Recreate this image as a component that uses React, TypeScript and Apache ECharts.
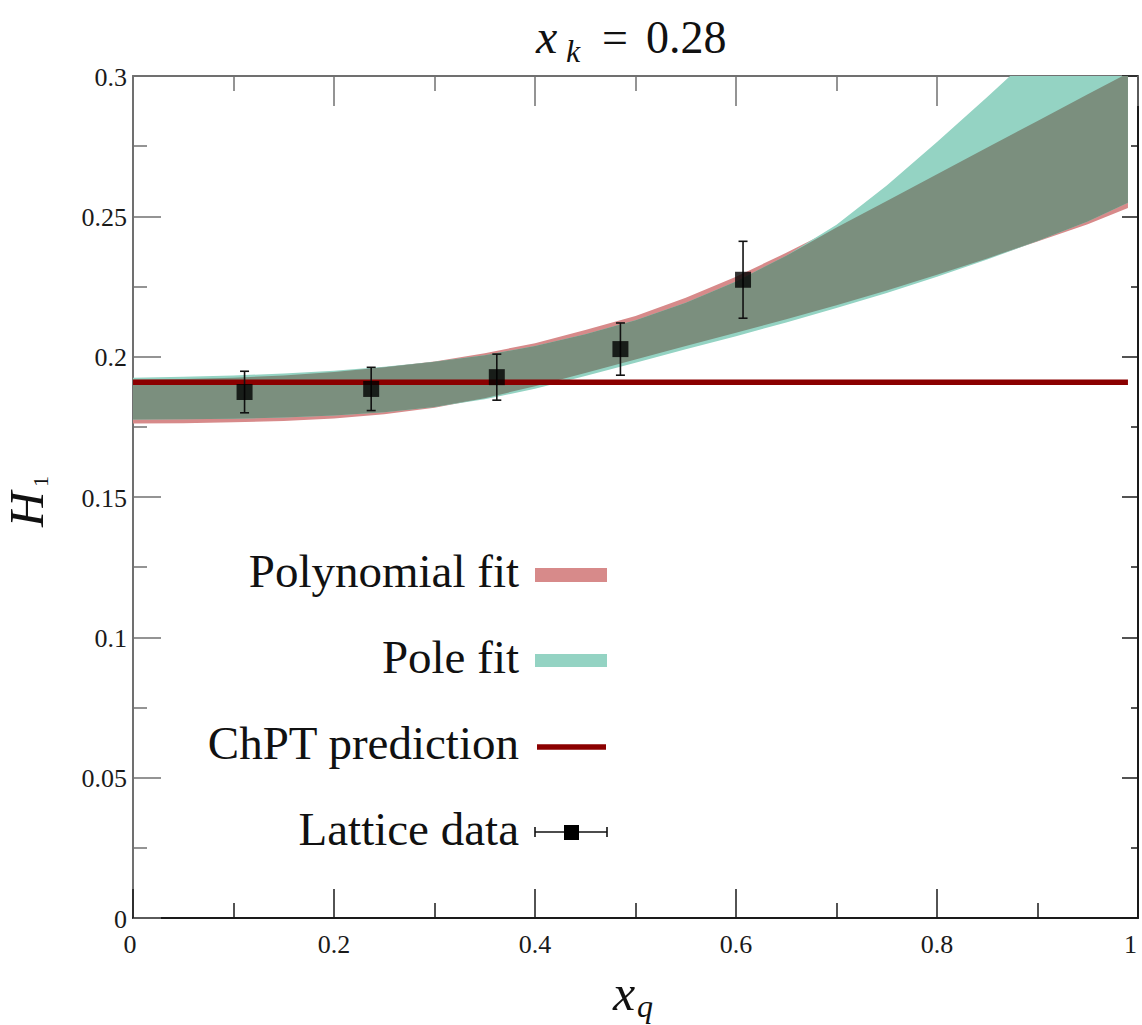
import React, { useEffect, useRef } from "react";
import * as echarts from "echarts";

// ---------- data ----------
const bandX = [0, 0.05, 0.1, 0.15, 0.2, 0.25, 0.3, 0.35, 0.4, 0.45, 0.5, 0.55, 0.6, 0.65, 0.7, 0.75, 0.8, 0.85, 0.9, 0.95, 0.99];
const polyLo = [0.1762, 0.1763, 0.1766, 0.1771, 0.178, 0.1795, 0.1818, 0.1852, 0.1895, 0.1942, 0.199, 0.2038, 0.2085, 0.2133, 0.2183, 0.2236, 0.2292, 0.235, 0.241, 0.2472, 0.253];
const polyHi = [0.1918, 0.192, 0.1925, 0.1933, 0.1945, 0.1962, 0.1983, 0.2012, 0.2048, 0.2095, 0.2145, 0.221, 0.2285, 0.237, 0.246, 0.2555, 0.265, 0.2745, 0.284, 0.2935, 0.301];
const poleLo = [0.1776, 0.1777, 0.1779, 0.1783, 0.179, 0.1802, 0.1821, 0.1848, 0.1886, 0.1931, 0.1978, 0.2026, 0.2073, 0.2122, 0.2173, 0.2227, 0.2285, 0.2346, 0.2412, 0.2482, 0.2548];
const poleHi = [0.1925, 0.1928, 0.1933, 0.194, 0.195, 0.1964, 0.1982, 0.2005, 0.2038, 0.208, 0.213, 0.2192, 0.2268, 0.236, 0.247, 0.261, 0.2765, 0.2925, 0.309, 0.326, 0.34];

const latticeX = [0.111, 0.237, 0.362, 0.485, 0.607];
const latticeY = [0.1874, 0.1885, 0.1927, 0.2027, 0.2274];
const latticeErr = [0.0074, 0.0077, 0.0082, 0.0093, 0.0137];

const chptValue = 0.1909;
const chptX = [0, 0.99];

const xTickValues = [0, 0.2, 0.4, 0.6, 0.8, 1];
const xTickLabels = ["0", "0.2", "0.4", "0.6", "0.8", "1"];
const yTickValues = [0, 0.05, 0.1, 0.15, 0.2, 0.25, 0.3];
const yTickLabels = ["0", "0.05", "0.1", "0.15", "0.2", "0.25", "0.3"];

// ---------- styles ----------
const FONT = "Liberation Serif";
const PINK = "#d78a8a";
const TEAL = "#94d3c3";
const OVERLAP = "#7b8f7e";
const DARKRED = "#8b0000";
const DARK = "#1a1a1a";
const GRAYAX = "#707070";
const TICKFONT = 26;

function bandSeries(lo: number[], hi: number[], color: string, z: number) {
  return {
    type: "custom",
    z,
    clip: true,
    silent: true,
    data: bandX.map((x, i) => [x, lo[i], hi[i]]),
    encode: { x: 0, y: [1, 2] },
    renderItem: (params: any, api: any) => {
      if (params.dataIndex !== 0) return null;
      const pts: number[][] = [];
      for (let i = 0; i < bandX.length; i++) pts.push(api.coord([bandX[i], hi[i]]));
      for (let i = bandX.length - 1; i >= 0; i--) pts.push(api.coord([bandX[i], lo[i]]));
      return { type: "polygon", shape: { points: pts }, style: { fill: color, stroke: null } };
    },
  };
}

function txt(text: string, x: number, y: number, size: number, align: string, italic = false, fill = "#111") {
  return {
    type: "text",
    x,
    y,
    silent: true,
    style: {
      text,
      fontSize: size,
      fontFamily: FONT,
      fontStyle: italic ? "italic" : "normal",
      fill,
      align,
      textAlign: align,
      verticalAlign: "middle",
      textVerticalAlign: "middle",
    },
  };
}

export default function App() {
  const ref = useRef<HTMLDivElement>(null);
  useEffect(() => {
    if (!ref.current) return;
    const chart = echarts.init(ref.current, null, { renderer: "svg" });
    const overlapLo = polyLo.map((v, i) => Math.max(v, poleLo[i]));
    const overlapHi = polyHi.map((v, i) => Math.min(v, poleHi[i]));

    const legendBase = [587, 673, 759, 845];
    const LF = 47;
    const mid = (b: number, f: number) => b - 0.3375 * f;

    const axisCommon = (color: string, major: number, minor: number, interval: number) => ({
      type: "value",
      interval,
      axisLine: { show: true, onZero: false, lineStyle: { color, width: 2 } },
      axisTick: { show: true, inside: true, length: major, lineStyle: { color, width: 1.5 } },
      minorTick: { show: true, splitNumber: 2, length: minor, lineStyle: { color, width: 1.5 } },
      splitLine: { show: false },
      axisLabel: { show: false },
    });

    const option: any = {
      animation: false,
      backgroundColor: "#ffffff",
      textStyle: { fontFamily: FONT },
      grid: { left: 133, right: 4, top: 76, bottom: 107, containLabel: false, outerBoundsMode: "none" },
      xAxis: [
        { ...axisCommon(DARK, 29, 15, 0.2), min: 0, max: 1, position: "bottom" },
        { ...axisCommon(GRAYAX, 30, 15, 0.2), min: 0, max: 1, position: "top" },
      ],
      yAxis: [
        { ...axisCommon(GRAYAX, 28, 14, 0.05), min: 0, max: 0.3, position: "left" },
        { ...axisCommon(DARK, 16, 7, 0.05), min: 0, max: 0.3, position: "right" },
      ],
      series: [
        bandSeries(polyLo, polyHi, PINK, 1),
        bandSeries(poleLo, poleHi, TEAL, 2),
        bandSeries(overlapLo, overlapHi, OVERLAP, 3),
        {
          type: "line",
          z: 4,
          silent: true,
          showSymbol: false,
          data: chptX.map((x) => [x, chptValue]),
          lineStyle: { color: DARKRED, width: 5.5 },
        },
        {
          type: "custom",
          z: 5,
          silent: true,
          data: latticeX.map((x, i) => [x, latticeY[i], latticeErr[i]]),
          encode: { x: 0, y: 1 },
          renderItem: (params: any, api: any) => {
            const x = api.value(0);
            const y = api.value(1);
            const e = api.value(2);
            const top = api.coord([x, y + e]);
            const bot = api.coord([x, y - e]);
            const cap = 4.5;
            const st = { stroke: "#111", lineWidth: 1.6 };
            return {
              type: "group",
              children: [
                { type: "line", shape: { x1: top[0], y1: top[1], x2: bot[0], y2: bot[1] }, style: st },
                { type: "line", shape: { x1: top[0] - cap, y1: top[1], x2: top[0] + cap, y2: top[1] }, style: st },
                { type: "line", shape: { x1: bot[0] - cap, y1: bot[1], x2: bot[0] + cap, y2: bot[1] }, style: st },
              ],
            };
          },
        },
        {
          type: "scatter",
          z: 6,
          silent: true,
          symbol: "rect",
          symbolSize: 16,
          itemStyle: { color: "#000" },
          data: latticeX.map((x, i) => [x, latticeY[i]]),
        },
      ],
    };
    chart.setOption(option);

    // tick labels placed through the axes' own scales
    const y0 = chart.convertToPixel({ yAxisIndex: 0 }, 0) as number;
    const x0 = chart.convertToPixel({ xAxisIndex: 0 }, 0) as number;
    const tickLabels: any[] = [];
    xTickValues.forEach((v, i) => {
      const px = chart.convertToPixel({ xAxisIndex: 0 }, v) as number;
      const last = i === xTickValues.length - 1;
      const first = i === 0;
      tickLabels.push(
        txt(
          xTickLabels[i],
          first ? px - 3 : last ? px - 1 : px,
          y0 + 26,
          TICKFONT,
          last ? "right" : "center",
          false,
          DARK
        )
      );
    });
    yTickValues.forEach((v, i) => {
      const py = chart.convertToPixel({ yAxisIndex: 0 }, v) as number;
      tickLabels.push(txt(yTickLabels[i], x0 - 6, py + 1, TICKFONT, "right", false, DARK));
    });

    const graphics: any[] = [
      ...tickLabels,
      // title x_k = 0.28
      txt("x", 536, mid(53, 48), 48, "left", true),
      txt("k", 566, mid(62, 32), 32, "left", true),
      txt("=", 615, mid(53, 46), 46, "center"),
      txt("0.28", 646, mid(53, 46), 46, "left"),
      // x axis name x_q
      txt("x", 613, mid(1010, 50), 50, "left", true),
      txt("q", 637, mid(1017, 32), 32, "left", true),
      // y axis name H_1 (rotated)
      {
        type: "group",
        x: 43,
        y: 527,
        rotation: Math.PI / 2,
        children: [txt("H", 0, mid(0, 49), 49, "left", true), txt("1", 40, mid(5, 22), 22, "left")],
      },
      // legend
      txt("Polynomial fit", 519, mid(legendBase[0], LF), LF, "right"),
      txt("Pole fit", 519, mid(legendBase[1], LF), LF, "right"),
      txt("ChPT prediction", 519, mid(legendBase[2], LF), LF, "right"),
      txt("Lattice data", 519, mid(legendBase[3], LF), LF, "right"),
      { type: "rect", silent: true, shape: { x: 535, y: 568, width: 72, height: 14 }, style: { fill: PINK } },
      { type: "rect", silent: true, shape: { x: 535, y: 654, width: 72, height: 13 }, style: { fill: TEAL } },
      {
        type: "line",
        silent: true,
        shape: { x1: 537, y1: 747, x2: 606, y2: 747 },
        style: { stroke: DARKRED, lineWidth: 5.5 },
      },
      {
        type: "line",
        silent: true,
        shape: { x1: 535, y1: 832, x2: 607, y2: 832 },
        style: { stroke: "#111", lineWidth: 1.6 },
      },
      {
        type: "line",
        silent: true,
        shape: { x1: 535, y1: 827, x2: 535, y2: 837 },
        style: { stroke: "#111", lineWidth: 1.6 },
      },
      {
        type: "line",
        silent: true,
        shape: { x1: 607, y1: 827, x2: 607, y2: 837 },
        style: { stroke: "#111", lineWidth: 1.6 },
      },
      { type: "rect", silent: true, shape: { x: 564, y: 825, width: 15, height: 15 }, style: { fill: "#000" } },
    ];
    chart.setOption({ graphic: graphics });
    return () => chart.dispose();
  }, []);
  return (
    <div
      ref={ref}
      style={{ position: "fixed", left: 0, top: 0, width: 1142, height: 1025, background: "#fff" }}
    />
  );
}
